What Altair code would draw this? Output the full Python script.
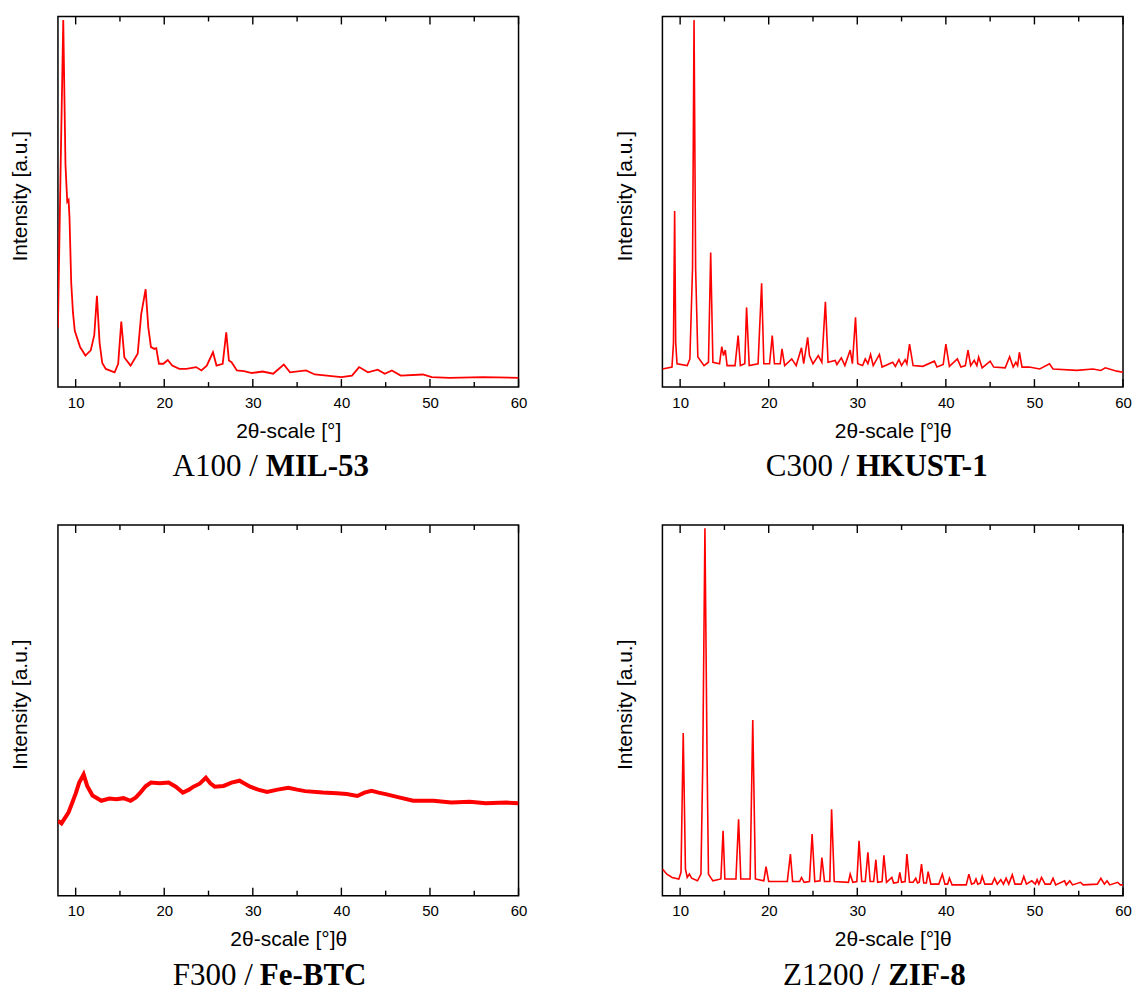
import altair as alt
import pandas as pd

# ---------------- data ----------------
# A100 / MIL-53
mil_x = [8.0, 8.3, 8.6, 8.85, 9.05, 9.2, 9.3, 9.5, 9.7, 9.9, 10.5, 11.1, 11.7, 12.1, 12.4, 12.7,
         13.0, 13.4, 14.4, 14.8, 15.15, 15.5, 16.2, 17.0, 17.4, 17.9, 18.2, 18.5, 18.9, 19.1, 19.4,
         19.9, 20.4, 20.9, 21.7, 22.5, 23.6, 24.2, 24.8, 25.5, 25.9, 26.6, 27.0, 27.3, 27.6, 28.2,
         29.0, 29.9, 31.1, 32.3, 33.5, 34.2, 36.0, 37.0, 40.0, 41.2, 42.0, 43.0, 44.1, 44.9, 45.7,
         46.7, 49.2, 50.2, 52.2, 56.0, 60.0]
mil_y = [16.1, 59.1, 99.0, 60.0, 50.0, 50.5, 46.0, 28.0, 20.0, 15.2, 10.8, 8.5, 9.9, 14.0, 24.6, 12.0,
         6.5, 4.9, 4.0, 6.3, 17.7, 8.0, 5.8, 9.0, 19.7, 26.4, 16.1, 10.8, 10.3, 10.5, 6.3,
         6.3, 7.3, 5.8, 4.9, 4.9, 5.4, 4.5, 5.8, 9.4, 5.8, 6.3, 14.8, 7.2, 6.7, 4.5,
         4.3, 3.8, 4.2, 3.6, 6.1, 4.0, 4.5, 3.4, 2.7, 3.1, 5.4, 4.0, 4.7, 3.6, 4.5,
         3.1, 3.4, 2.7, 2.5, 2.7, 2.5]

# C300 / HKUST-1
hk_x = [8.0, 9.08, 9.25, 9.38, 9.5, 9.65, 10.8, 11.1, 11.4, 11.57, 11.75, 12.0, 12.7, 13.2, 13.45,
        13.7, 14.45, 14.7, 14.9, 15.1, 15.3, 16.2, 16.55, 16.8, 17.3, 17.5, 17.8, 18.8, 19.2, 19.45,
        20.1, 20.4, 20.65, 21.3, 21.5, 21.8, 22.6, 23.1, 23.7, 23.95, 24.4, 24.6, 25.0, 25.6, 26.0,
        26.4, 26.7, 27.5, 27.7, 28.2, 28.6, 29.2, 29.45, 29.8, 30.05, 30.6, 30.9, 31.2, 31.5, 31.8,
        32.5, 32.8, 34.0, 34.3, 34.7, 35.0, 35.4, 35.6, 35.9, 36.3, 37.4, 38.7, 39.0, 39.7, 40.0,
        40.4, 41.3, 41.7, 42.2, 42.5, 42.8, 43.2, 43.5, 43.7, 44.1, 45.0, 45.4, 46.7, 47.2, 47.6,
        47.9, 48.1, 48.3, 48.6, 49.4, 50.6, 51.7, 52.1, 54.8, 56.6, 57.5, 58.0, 59.3, 60.0]
hk_y = [4.9, 5.4, 12.0, 47.5, 12.0, 6.3, 5.8, 7.6, 32.0, 99.0, 32.0, 8.1, 5.8, 6.7, 36.3,
        6.7, 6.3, 10.9, 8.5, 10.0, 5.8, 5.8, 13.9, 5.8, 6.3, 21.5, 5.8, 6.3, 28.0, 6.3,
        6.3, 13.9, 6.3, 6.3, 10.3, 5.8, 7.6, 5.8, 10.6, 6.3, 13.4, 8.5, 6.3, 8.5, 6.7,
        23.0, 6.7, 7.2, 6.1, 7.9, 5.8, 10.0, 6.3, 18.8, 6.3, 5.8, 7.6, 6.3, 8.8, 5.8,
        8.8, 5.4, 6.7, 5.6, 7.4, 5.8, 7.4, 6.3, 11.6, 5.8, 5.6, 7.0, 5.4, 6.1, 11.6,
        5.6, 7.6, 5.4, 5.8, 10.0, 5.8, 7.2, 5.8, 8.1, 5.2, 7.0, 5.4, 5.2, 8.2, 5.4,
        6.7, 5.8, 9.4, 5.4, 5.4, 4.9, 6.3, 4.9, 4.5, 4.9, 4.5, 5.2, 4.3, 4.0]

# F300 / Fe-BTC
fe_x = [8.0, 8.4, 8.8, 9.2, 9.6, 10.0, 10.4, 10.9, 11.3, 11.9, 12.9, 13.8, 14.6, 15.4, 16.2, 16.8,
        17.3, 17.9, 18.5, 19.5, 20.5, 21.3, 22.1, 22.8, 23.3, 24.0, 24.7, 25.2, 25.7, 26.7, 27.6,
        28.5, 29.1, 29.7, 30.6, 31.6, 32.8, 34.0, 35.0, 35.9, 37.9, 39.5, 40.6, 41.8, 42.6, 43.4,
        44.2, 45.0, 46.5, 48.1, 50.4, 52.4, 54.5, 56.3, 58.6, 60.0]
fe_y = [20.2, 19.5, 21.0, 22.5, 25.0, 27.5, 30.5, 32.7, 29.6, 27.0, 25.6, 26.2, 26.0, 26.3, 25.6, 26.5,
        27.8, 29.5, 30.5, 30.3, 30.5, 29.4, 27.8, 28.6, 29.4, 30.2, 31.8, 30.3, 29.4, 29.6, 30.5,
        31.0, 30.2, 29.4, 28.6, 28.0, 28.6, 29.1, 28.6, 28.2, 27.8, 27.6, 27.4, 26.9, 27.8, 28.3,
        27.8, 27.4, 26.5, 25.6, 25.6, 25.1, 25.3, 24.9, 25.1, 24.9]

# Z1200 / ZIF-8
zif_x = [8.0, 8.5, 9.1, 9.85, 10.1, 10.35, 10.6, 10.8, 11.04, 11.3, 11.96, 12.35, 12.55, 12.8, 13.05,
         13.2, 13.7, 14.6, 14.85, 15.05, 16.3, 16.6, 16.85, 17.9, 18.2, 18.5, 19.45, 19.7, 20.0,
         22.1, 22.45, 22.7, 23.5, 23.7, 24.0, 24.6, 24.9, 25.2, 25.8, 26.0, 26.3, 26.9, 27.1, 27.4,
         29.0, 29.2, 29.5, 29.95, 30.2, 30.5, 30.9, 31.2, 31.45, 31.85, 32.1, 32.3, 32.8, 33.0, 33.3,
         33.9, 34.1, 34.6, 34.8, 35.0, 35.4, 35.6, 35.9, 36.3, 36.6, 36.8, 37.0, 37.25, 37.5, 37.8,
         38.0, 38.3, 39.2, 39.6, 39.9, 40.2, 40.4, 40.7, 42.3, 42.6, 42.9, 43.2, 43.4, 43.6, 43.9,
         44.1, 44.4, 45.2, 45.5, 45.8, 46.2, 46.5, 46.8, 47.1, 47.5, 47.8, 48.5, 48.8, 49.1, 49.7,
         50.1, 50.3, 50.5, 50.8, 51.2, 51.8, 52.1, 52.4, 53.4, 53.6, 54.0, 54.3, 55.2, 55.5, 57.1,
         57.5, 57.9, 58.2, 58.5, 59.4, 59.7, 60.0]
zif_y = [7.2, 5.8, 4.9, 4.5, 6.3, 43.9, 7.2, 4.9, 5.8, 4.7, 4.0, 5.8, 35.0, 99.1, 35.0,
         5.8, 4.0, 4.5, 17.5, 4.5, 4.5, 20.6, 4.5, 4.5, 47.4, 4.5, 4.0, 7.8, 3.8,
         3.8, 11.2, 3.8, 3.8, 4.9, 3.6, 3.8, 16.6, 3.8, 4.0, 10.3, 3.8, 3.8, 23.3, 3.8,
         3.6, 5.8, 3.6, 3.8, 14.8, 3.8, 3.8, 11.7, 3.8, 3.8, 9.7, 3.6, 3.8, 10.9, 3.6,
         4.9, 3.4, 3.6, 6.3, 3.6, 3.8, 11.2, 3.6, 3.6, 4.7, 3.4, 3.6, 8.5, 3.4, 3.4,
         6.5, 3.1, 3.1, 5.8, 3.1, 3.1, 4.7, 2.9, 2.9, 5.8, 3.1, 3.4, 4.5, 3.1, 3.4,
         5.2, 3.1, 3.1, 4.7, 3.1, 4.3, 3.1, 4.7, 3.1, 5.6, 3.1, 3.1, 5.2, 3.1, 4.0,
         3.1, 4.3, 3.1, 4.9, 3.1, 3.1, 4.7, 2.9, 4.0, 2.9, 4.0, 2.9, 3.6, 2.9, 3.1,
         4.7, 3.1, 4.0, 2.9, 3.6, 2.9, 2.9]

major_ticks = [10, 20, 30, 40, 50, 60]
minor_ticks = [15, 25, 35, 45, 55]

# ---------------- layout ----------------
W, H = 461, 371
SANS = "Liberation Sans"
SERIF = "Liberation Serif"


def panel(xs, ys, lw, x_title, name_normal, name_bold, x_normal, x_bold):
    df = pd.DataFrame({"x": xs, "y": ys})
    xscale = alt.Scale(domain=[8, 60], nice=False, zero=False)
    yscale = alt.Scale(domain=[0, 100], nice=False, zero=False)
    xaxis = alt.Axis(values=major_ticks, title=x_title, ticks=False, domain=False,
                     grid=False, labelPadding=8, titlePadding=10, format="d",
                     labelFlush=False)

    line = alt.Chart(df).mark_line(color="#ff0000", strokeWidth=lw, clip=True).encode(
        x=alt.X("x:Q", scale=xscale, axis=xaxis),
        y=alt.Y("y:Q", scale=yscale,
                axis=alt.Axis(title="Intensity [a.u.]", labels=False, ticks=False,
                              domain=False, grid=False, titlePadding=27,
                              titleY=H / 2 - 6)),
    )

    maj = pd.DataFrame({"x": major_ticks})
    mnr = pd.DataFrame({"x": minor_ticks})
    tx = alt.X("x:Q", scale=xscale, axis=xaxis)
    tick_layers = []
    for d, ln in ((maj, 8), (mnr, 5)):
        tick_layers.append(alt.Chart(d).mark_rule(color="black", strokeWidth=1.4).encode(
            x=tx, y=alt.value(0), y2=alt.value(ln)))
        tick_layers.append(alt.Chart(d).mark_rule(color="black", strokeWidth=1.4).encode(
            x=tx, y=alt.value(H), y2=alt.value(H - ln)))

    t1 = alt.Chart(pd.DataFrame({"s": [name_normal]})).mark_text(
        font=SERIF, fontSize=31, align="right", baseline="middle", color="black"
    ).encode(text="s:N", x=alt.value(x_normal), y=alt.value(H + 80))
    t2 = alt.Chart(pd.DataFrame({"s": [name_bold]})).mark_text(
        font=SERIF, fontSize=31, fontWeight="bold", align="left", baseline="middle", color="black"
    ).encode(text="s:N", x=alt.value(x_bold), y=alt.value(H + 80))

    return alt.layer(line, *tick_layers, t1, t2).properties(width=W, height=H)


p1 = panel(mil_x, mil_y, 1.8, "2θ-scale [°]", "A100 /", "MIL-53", 200, 208)
p2 = panel(hk_x, hk_y, 1.6, "2θ-scale [°]θ", "C300 /", "HKUST-1", 187, 194)
p3 = panel(fe_x, fe_y, 4.0, "2θ-scale [°]θ", "F300 /", "Fe-BTC", 195, 202)
p4 = panel(zif_x, zif_y, 1.6, "2θ-scale [°]θ", "Z1200 /", "ZIF-8", 218, 226)

chart = alt.concat(p1, p2, p3, p4, columns=2,
                   spacing={"row": 138, "column": 144}, bounds="flush").properties(
    padding={"left": 9, "top": 14, "right": 0, "bottom": 0},
    background="white",
).configure_view(
    stroke="black", strokeWidth=1.5
).configure_axis(
    labelFont=SANS, labelFontSize=15, labelColor="black",
    titleFont=SANS, titleFontSize=21, titleFontWeight="normal", titleColor="black",
)

chart.save("out.html", embed_options={"renderer": "svg", "actions": False})
